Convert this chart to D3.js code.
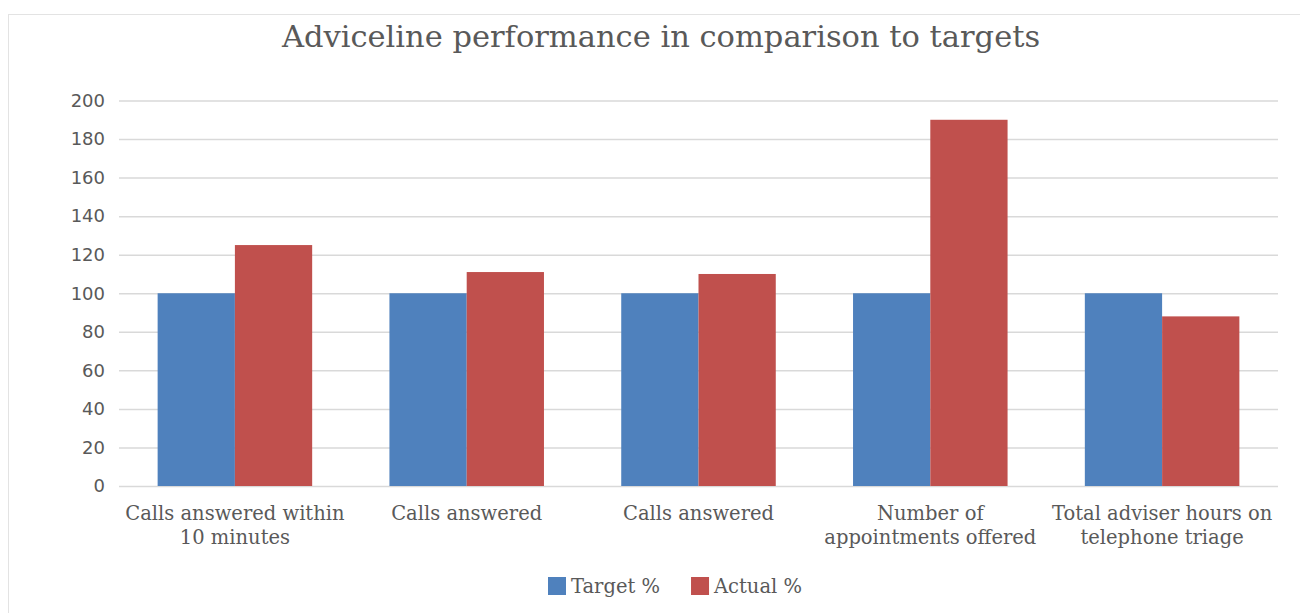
<!DOCTYPE html>
<html>
<head>
<meta charset="utf-8">
<script src="https://cdn.jsdelivr.net/npm/d3@7"></script>
<style>
	body { margin: 0; background: #fff; }
	.title { font-family: 'DejaVu Serif', serif; fill: #595959; }
	.cat { font-family: 'DejaVu Serif', serif; fill: #595959; }
	.legend text { font-family: 'DejaVu Serif', serif; fill: #595959; }
	.y-axis text { font-family: 'DejaVu Sans', sans-serif; fill: #595959; }
</style>
</head>
<body>
<script>
var title = 'Adviceline performance in comparison to targets';
var categories = [
	['Calls answered within', '10 minutes'],
	['Calls answered'],
	['Calls answered'],
	['Number of', 'appointments offered'],
	['Total adviser hours on', 'telephone triage']
];
var seriesNames = ['Target %', 'Actual %'];
var targetValues = [100, 100, 100, 100, 100];
var actualValues = [125, 111, 110, 190, 88];
var yTicks = [0, 20, 40, 60, 80, 100, 120, 140, 160, 180, 200];
var colors = ['#4f81bd', '#c0504d'];

var width = 1300;
var height = 613;
var plot = { left: 119, right: 1278, top: 100.5, bottom: 486 };

var svg = d3.select('body')
	.append('svg')
	.attr('width', width)
	.attr('height', height);

// chart area border, runs off the right and bottom of the picture
svg.append('rect')
	.attr('x', 8.5)
	.attr('y', 14.5)
	.attr('width', 1400)
	.attr('height', 700)
	.attr('fill', 'none')
	.attr('stroke', '#e3e3e3');

svg.append('text')
	.attr('class', 'title')
	.attr('x', 661)
	.attr('y', 47)
	.attr('text-anchor', 'middle')
	.style('font-size', '30.5px')
	.text(title);

var y = d3.scaleLinear()
	.domain([0, 200])
	.range([plot.bottom, plot.top]);

var x0 = d3.scaleBand()
	.domain(d3.range(categories.length))
	.range([plot.left, plot.right])
	.paddingInner(1 / 3)
	.paddingOuter(1 / 6);

var x1 = d3.scaleBand()
	.domain([0, 1])
	.range([0, x0.bandwidth()]);

var yAxis = svg.append('g')
	.attr('class', 'y-axis')
	.attr('transform', 'translate(' + plot.left + ',0)')
	.call(d3.axisLeft(y)
		.tickValues(yTicks)
		.tickSize(-(plot.right - plot.left))
		.tickPadding(14));

yAxis.select('.domain').remove();
yAxis.selectAll('line')
	.attr('stroke', '#d9d9d9')
	.attr('stroke-width', 1.5);
yAxis.selectAll('text')
	.style('font-size', '18px');

var rows = categories.map(function(c, i) {
	return [targetValues[i], actualValues[i]];
});

var groups = svg.selectAll('.group')
	.data(rows)
	.enter()
	.append('g')
	.attr('class', 'group')
	.attr('transform', function(d, i) {
		return 'translate(' + x0(i) + ',0)';
	});

groups.selectAll('rect')
	.data(function(d) { return d; })
	.enter()
	.append('rect')
	.attr('x', function(d, i) { return x1(i); })
	.attr('y', function(d) { return y(d); })
	.attr('width', x1.bandwidth())
	.attr('height', function(d) { return y(0) - y(d); })
	.attr('fill', function(d, i) { return colors[i]; });

var labels = svg.selectAll('.cat')
	.data(categories)
	.enter()
	.append('text')
	.attr('class', 'cat')
	.attr('text-anchor', 'middle')
	.style('font-size', '19.5px')
	.attr('transform', function(d, i) {
		return 'translate(' + (x0(i) + x0.bandwidth() / 2) + ',520)';
	});

labels.selectAll('tspan')
	.data(function(d) { return d; })
	.enter()
	.append('tspan')
	.attr('x', 0)
	.attr('y', function(d, i) { return i * 24; })
	.text(function(d) { return d; });

var legend = svg.append('g')
	.attr('class', 'legend')
	.attr('transform', 'translate(548,586)');

var lx = 0;
seriesNames.forEach(function(name, i) {
	legend.append('rect')
		.attr('x', lx)
		.attr('y', -9)
		.attr('width', 18)
		.attr('height', 18)
		.attr('fill', colors[i]);
	var t = legend.append('text')
		.attr('x', lx + 23)
		.attr('y', 7)
		.style('font-size', '19.5px')
		.text(name);
	lx += 23 + t.node().getComputedTextLength() + 31;
});
</script>
</body>
</html>
